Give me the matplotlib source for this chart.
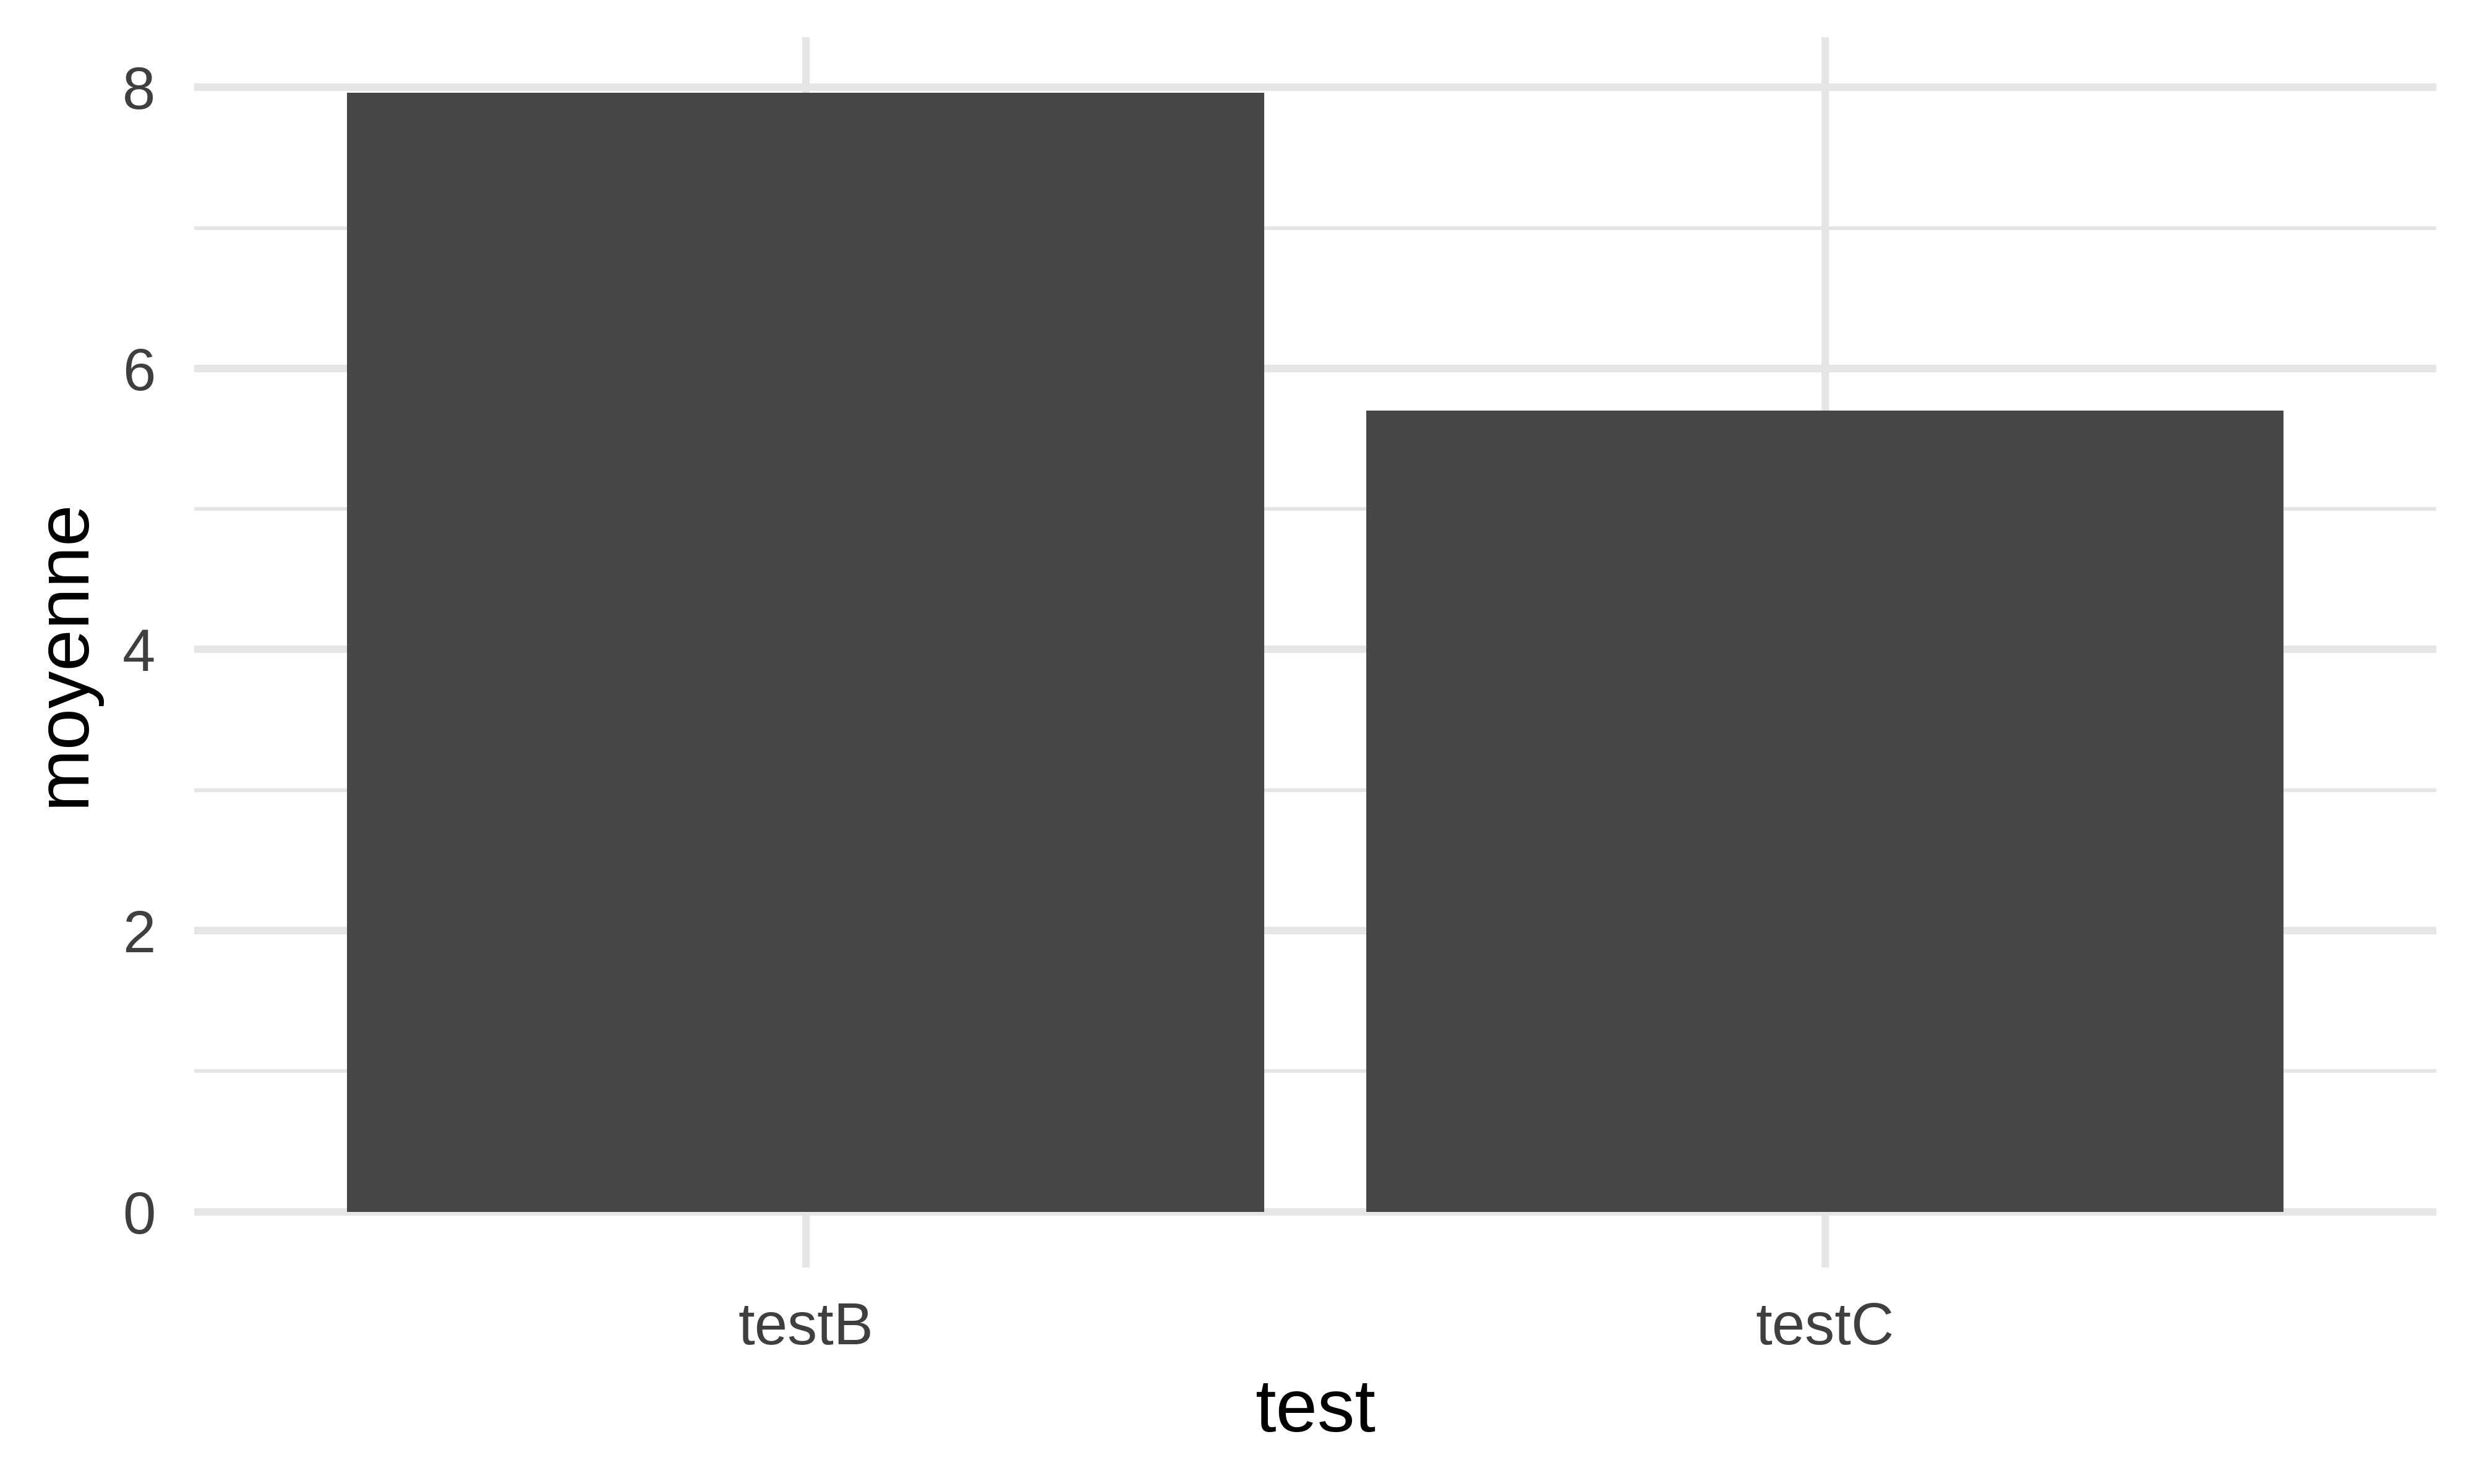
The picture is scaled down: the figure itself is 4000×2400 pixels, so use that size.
import matplotlib
matplotlib.use("Agg")
import matplotlib.pyplot as plt
from matplotlib.ticker import MultipleLocator

# données
tests = ["testB", "testC"]
moyennes = [7.96, 5.70]

plt.rcParams['font.family'] = ['Liberation Sans', 'DejaVu Sans']

fig = plt.figure(figsize=(4000 / 300, 2400 / 300), dpi=300)
ax = fig.add_axes([0.0785, 0.1458, 0.9063, 0.8292])

x = list(range(1, len(tests) + 1))
ax.bar(x, moyennes, width=0.9, color="#474747", zorder=3)

# échelles avec l'expansion de ggplot
ymax = max(moyennes)
ax.set_xlim(0.4, len(tests) + 0.6)
ax.set_ylim(-0.05 * ymax, ymax * 1.05)
ax.set_xticks(x)
ax.set_xticklabels(tests)
ax.yaxis.set_major_locator(MultipleLocator(2))
ax.yaxis.set_minor_locator(MultipleLocator(1))

# grille façon theme_minimal
ax.grid(which="major", color="#E5E5E5", linewidth=2.9, zorder=0)
ax.grid(which="minor", axis="y", color="#E5E5E5", linewidth=1.45, zorder=0)
ax.set_axisbelow(True)
for s in ax.spines.values():
    s.set_visible(False)

ax.tick_params(which="both", length=0)
ax.tick_params(axis="x", labelsize=23, labelcolor="#3F3F3F", pad=13)
ax.tick_params(axis="y", labelsize=23, labelcolor="#3F3F3F", pad=15)

ax.set_xlabel("test", fontsize=29, color="black", labelpad=8)
ax.set_ylabel("moyenne", fontsize=29, color="black", labelpad=9)

fig.savefig("out.png", dpi=300, facecolor="white")
